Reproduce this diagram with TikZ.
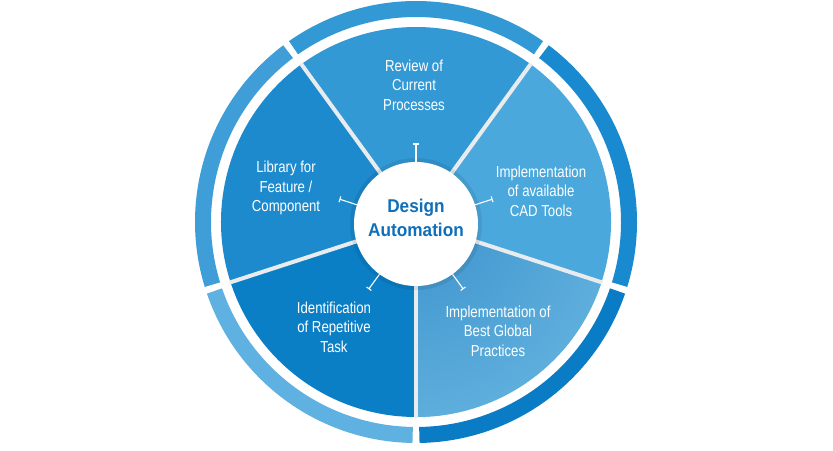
\documentclass[tikz,border=0pt]{standalone}
\usepackage{fontspec}
\usetikzlibrary{calc}
\setmainfont[FakeStretch=0.83]{Liberation Sans}
\newfontfamily\titlefont[FakeStretch=0.93]{Liberation Sans}
\definecolor{segTop}{HTML}{3399D5}
\definecolor{segRight}{HTML}{4AA8DC}
\definecolor{segBRin}{HTML}{3D93CC}
\definecolor{segBRout}{HTML}{6BB9E3}
\definecolor{segBL}{HTML}{0B7FC6}
\definecolor{segLeft}{HTML}{1C8ACD}
\definecolor{ringTop}{HTML}{3399D5}
\definecolor{ringRight}{HTML}{1A8AD0}
\definecolor{ringBR}{HTML}{0A7CC6}
\definecolor{ringBL}{HTML}{5EB1E0}
\definecolor{ringLeft}{HTML}{3F9ED8}
\definecolor{titleblue}{HTML}{0E6FBA}
\definecolor{divgray}{HTML}{E8ECEF}
\tikzset{
  seglabel/.style={text=white, align=center, font=\fontsize{15.9}{19.5}\selectfont},
  ringpiece/.style={line width=16pt, line cap=butt},
  divider/.style={draw=divgray, line width=4pt},
  pinline/.style={draw=white, line width=1.1pt},
}
\begin{document}
\begin{tikzpicture}[x=1pt,y=1pt]
\useasboundingbox (0,0) rectangle (833,450);
\coordinate (c) at (416,228);
% segments
\fill[segTop] (c) -- ++(54:195) arc[start angle=54, end angle=126, radius=195] -- cycle;
\fill[segRight] (c) -- ++(-18:195) arc[start angle=-18, end angle=54, radius=195] -- cycle;
\begin{scope}
  \clip (c) -- ++(-90:195) arc[start angle=-90, end angle=-18, radius=195] -- cycle;
  \fill[segBRout] (c) circle (200);
  \shade[inner color=segBRin, outer color=segBRout] (c) circle (270);
\end{scope}
\fill[segBL] (c) -- ++(198:195) arc[start angle=198, end angle=270, radius=195] -- cycle;
\fill[segLeft] (c) -- ++(126:195) arc[start angle=126, end angle=198, radius=195] -- cycle;
% outer ring pieces
\draw[ringpiece, ringTop] (c) ++(54.9:213) arc[start angle=54.9, end angle=125.1, radius=213];
\draw[ringpiece, ringRight] (c) ++(-17.1:213) arc[start angle=-17.1, end angle=53.1, radius=213];
\draw[ringpiece, ringBR] (c) ++(-89.1:213) arc[start angle=-89.1, end angle=-18.9, radius=213];
\draw[ringpiece, ringBL] (c) ++(198.9:213) arc[start angle=198.9, end angle=269.1, radius=213];
\draw[ringpiece, ringLeft] (c) ++(126.9:213) arc[start angle=126.9, end angle=197.1, radius=213];
% dividers
\foreach \a/\n in {54/d1,126/d2,198/d3,270/d4,-18/d5}{
  \coordinate (\n) at ($(c)+(\a:196)$);
}
\draw[divider] (c) -- (d1);
\draw[divider] (c) -- (d2);
\draw[divider] (c) -- (d3);
\draw[divider] (c) -- (d4);
\draw[divider] (c) -- (d5);
% hub
\fill[black, opacity=0.08] (416,226) circle (66);
\node[circle, fill=white, minimum size=124pt, inner sep=0pt] (hub) at (416,226) {};
\node[text=titleblue, align=center, font=\titlefont\bfseries\fontsize{18.5}{24}\selectfont] (title) at (416,232) {Design\\Automation};
% pins
\foreach \a/\n in {90/p1,18/p2,-54/p3,-126/p4,162/p5}{
  \coordinate (\n) at ($(416,226)+(\a:80)$);
  \draw[pinline] (hub.\a) -- (\n);
  \draw[pinline] ($(\n)+(\a+90:3)$) -- ($(\n)+(\a-90:3)$);
}
% labels
\node[seglabel] (review) at (414,365) {Review of\\Current\\Processes};
\node[seglabel] (cad) at (541,259) {Implementation\\of available\\CAD Tools};
\node[seglabel] (best) at (498,119) {Implementation of\\Best Global\\Practices};
\node[seglabel] (ident) at (334,123) {Identification\\of Repetitive\\Task};
\node[seglabel] (lib) at (286,262) {Library for\\Feature /\\Component};
\end{tikzpicture}
\end{document}
